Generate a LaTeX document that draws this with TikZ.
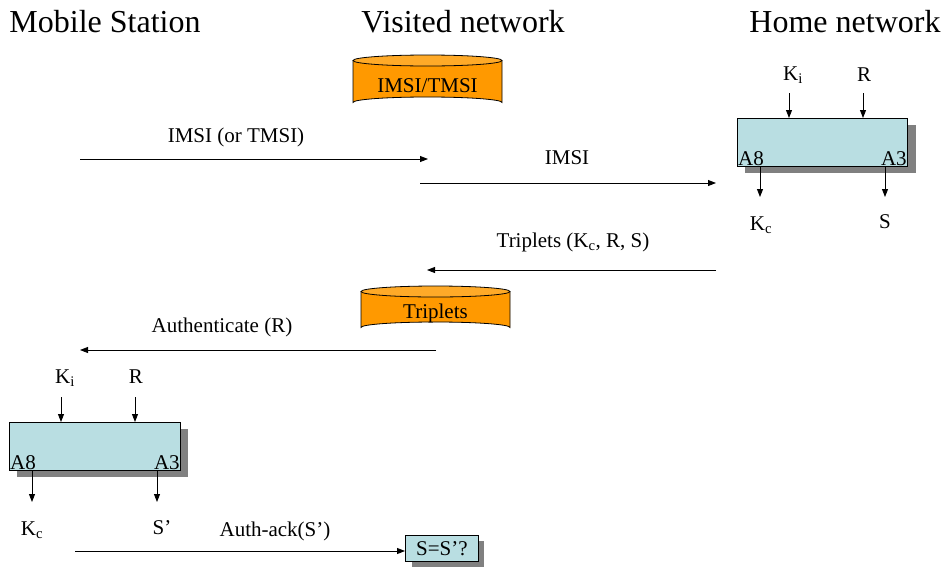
\documentclass[tikz,border=0pt]{standalone}
\usepackage{fontspec}
\setmainfont{Liberation Serif}
\usetikzlibrary{arrows.meta}
\definecolor{boxfill}{RGB}{185,222,226}
\definecolor{cylfill}{RGB}{255,153,0}
\definecolor{cyltop}{RGB}{255,170,40}
\definecolor{shadowgray}{RGB}{128,128,128}
\begin{document}
\begin{tikzpicture}[x=1pt,y=-1pt,
  lbl/.style={font=\fontsize{21}{24}\selectfont,inner sep=0pt},
  ttl/.style={font=\fontsize{32}{36}\selectfont,inner sep=0pt},
  arr/.style={draw=black,line width=0.9pt,-{Triangle[length=8pt,width=6pt]}},
  algbox/.style={draw=black,line width=0.9pt,fill=boxfill},
  shadowbox/.style={fill=shadowgray,draw=none}]
\useasboundingbox (0,0) rectangle (945,576);

% titles
\node[ttl] (tms) at (105,22) {Mobile Station};
\node[ttl] (tvn) at (463,22) {Visited network};
\node[ttl] (thn) at (845,22) {Home network};

% cylinder IMSI/TMSI
\fill[cylfill,draw=black,line width=0.8pt] (353,60.5) -- (353,102.5) arc[start angle=180,end angle=360,x radius=74.5,y radius=5.5] -- (502,60.5);
\draw[fill=cyltop,line width=0.8pt] (427.5,60.5) ellipse[x radius=74.5,y radius=5.5];
\node[lbl] (cyl1) at (427.5,86) {IMSI/TMSI};

% cylinder Triplets
\fill[cylfill,draw=black,line width=0.8pt] (361,291.5) -- (361,327.5) arc[start angle=180,end angle=360,x radius=74.5,y radius=5.5] -- (510,291.5);
\draw[fill=cyltop,line width=0.8pt] (435.5,291.5) ellipse[x radius=74.5,y radius=5.5];
\node[lbl] (cyl2) at (435.5,313) {Triplets};

% home network algorithm box
\fill[shadowgray] (745,125) rectangle (916,173);
\node[algbox,minimum width=170pt,minimum height=48pt,inner sep=0pt,anchor=north west] (hbox) at (737,118) {};
\node[lbl,anchor=south west,inner sep=1pt] (ha8) at (hbox.south west) {A8};
\node[lbl,anchor=south east,inner sep=1pt] (ha3) at (hbox.south east) {A3};
\node[lbl] (hki) at (793,75) {K\textsubscript{i}};
\node[lbl] (hr) at (864,75) {R};
\coordinate (hkis) at (789,93);
\coordinate (hrs) at (863,93);
\draw[arr] (hkis) -- (hkis |- hbox.north);
\draw[arr] (hrs) -- (hrs |- hbox.north);
\coordinate (hkce) at (760,197);
\coordinate (hse) at (885,197);
\draw[arr] (hkce |- hbox.south) -- (hkce);
\draw[arr] (hse |- hbox.south) -- (hse);
\node[lbl] (hkc) at (761,225) {K\textsubscript{c}};
\node[lbl] (hs) at (885,222) {S};

% mobile station algorithm box
\fill[shadowgray] (17,429) rectangle (188,477);
\node[algbox,minimum width=171pt,minimum height=48pt,inner sep=0pt,anchor=north west] (mbox) at (9,422) {};
\node[lbl,anchor=south west,inner sep=1pt] (ma8) at (mbox.south west) {A8};
\node[lbl,anchor=south east,inner sep=1pt] (ma3) at (mbox.south east) {A3};
\node[lbl] (mki) at (65,378) {K\textsubscript{i}};
\node[lbl] (mr) at (136,377) {R};
\coordinate (mkis) at (61,397);
\coordinate (mrs) at (135,397);
\draw[arr] (mkis) -- (mkis |- mbox.north);
\draw[arr] (mrs) -- (mrs |- mbox.north);
\coordinate (mkce) at (32,502);
\coordinate (mse) at (157,502);
\draw[arr] (mkce |- mbox.south) -- (mkce);
\draw[arr] (mse |- mbox.south) -- (mse);
\node[lbl] (mkc) at (32,530) {K\textsubscript{c}};
\node[lbl] (ms) at (162,528) {S'};

% check box
\fill[shadowgray] (412,541) rectangle (484,567);
\node[algbox,minimum width=73pt,minimum height=26pt,inner sep=0pt,anchor=north west,font=\fontsize{21}{24}\selectfont] (chk) at (405,535) {S=S'?};

% messages
\coordinate (m1s) at (80,159);
\coordinate (m1e) at (428,159);
\draw[arr] (m1s) -- (m1e);
\node[lbl] (l1) at (236,137) {IMSI (or TMSI)};

\coordinate (m2s) at (420,183);
\coordinate (m2e) at (716,183);
\draw[arr] (m2s) -- (m2e);
\node[lbl] (l2) at (567,158) {IMSI};

\coordinate (m3s) at (716,270);
\coordinate (m3e) at (427,270);
\draw[arr] (m3s) -- (m3e);
\node[lbl] (l3) at (573,242) {Triplets (K\textsubscript{c}, R, S)};

\coordinate (m4s) at (436,350);
\coordinate (m4e) at (80,350);
\draw[arr] (m4s) -- (m4e);
\node[lbl] (l4) at (222,327) {Authenticate (R)};

\coordinate (m5s) at (75,551);
\draw[arr] (m5s) -- (m5s -| chk.west);
\node[lbl] (l5) at (275,531) {Auth-ack(S')};
\end{tikzpicture}
\end{document}
